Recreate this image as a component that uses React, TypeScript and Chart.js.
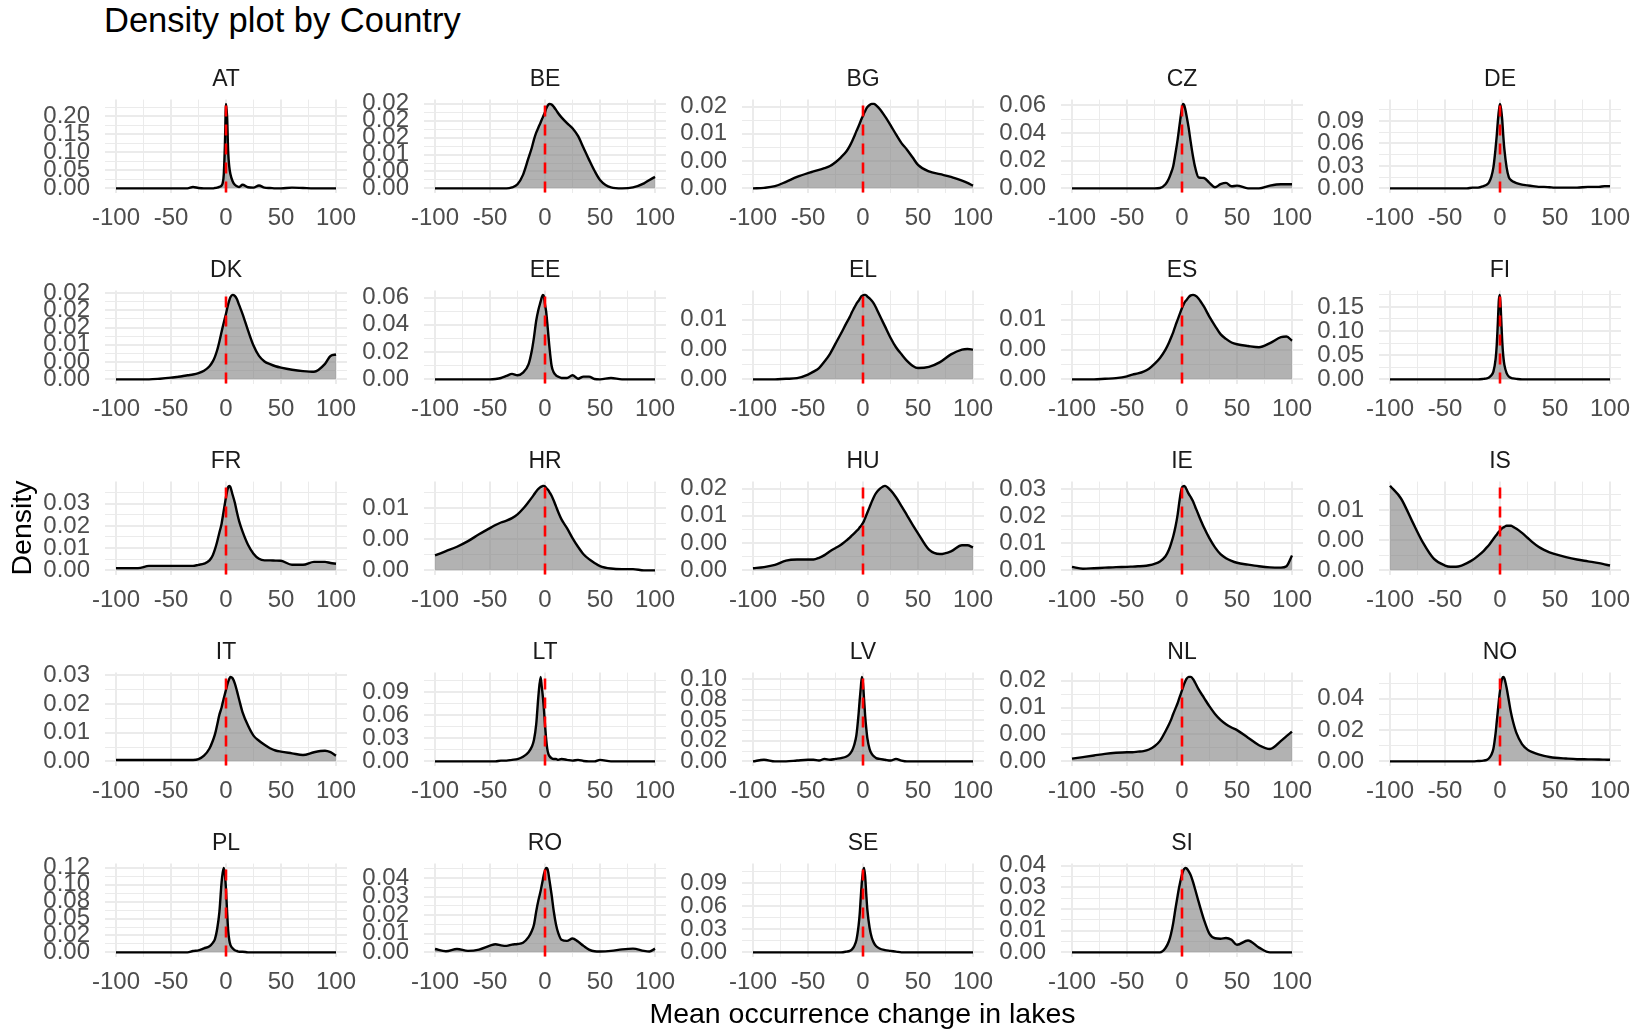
import React, { useEffect, useRef } from 'react';
import { Chart, registerables } from 'chart.js';

Chart.register(...registerables);

const FONT = '"Liberation Sans", Arial, Helvetica, sans-serif';
Chart.defaults.font.family = FONT;

// shared evaluation grid of "Mean occurrence change in lakes"
const X_GRID = [-100, -90, -80, -70, -60, -50, -45, -40, -35, -30, -25, -20, -15, -12, -10, -8, -6, -4, -3, -2, -1, 0, 1, 2, 3, 4, 6, 8, 10, 12, 15, 20, 25, 30, 35, 40, 45, 50, 60, 70, 80, 90, 95, 100];
const X_TICK_LABELS = [-100, -50, 0, 50, 100];
const REF_LINE_X = 0;

const COUNTRIES = ['AT', 'BE', 'BG', 'CZ', 'DE', 'DK', 'EE', 'EL', 'ES', 'FI', 'FR', 'HR', 'HU', 'IE', 'IS', 'IT', 'LT', 'LV', 'NL', 'NO', 'PL', 'RO', 'SE', 'SI'];

const AT = [0, 0, 0, 0, 0, 0, 0, 0, 0, 0.004, 0.001, 0, 0, 0, 0.001, 0.002, 0.004, 0.008, 0.015, 0.04, 0.12, 0.235, 0.2, 0.1, 0.06, 0.04, 0.02, 0.01, 0.006, 0.004, 0.01, 0.003, 0.002, 0.008, 0.002, 0.001, 0, 0, 0.002, 0.001, 0, 0, 0, 0];
const BE = [0, 0, 0, 0, 0, 0, 0, 0, 0, 0.0003, 0.0012, 0.004, 0.009, 0.012, 0.0145, 0.0165, 0.018, 0.0195, 0.0203, 0.021, 0.0218, 0.0225, 0.0235, 0.0242, 0.0247, 0.025, 0.0248, 0.0241, 0.0232, 0.0222, 0.021, 0.0193, 0.0178, 0.0155, 0.012, 0.0085, 0.0052, 0.0025, 0.0003, 0, 0.0003, 0.0015, 0.0025, 0.0034];
const BG = [0, 0.0001, 0.0004, 0.0012, 0.0021, 0.0028, 0.0031, 0.0034, 0.0037, 0.0041, 0.0048, 0.0057, 0.0068, 0.0078, 0.0086, 0.0095, 0.0105, 0.0114, 0.0119, 0.0124, 0.0129, 0.0133, 0.0138, 0.0142, 0.0146, 0.0149, 0.0153, 0.0155, 0.0155, 0.0152, 0.0146, 0.0132, 0.0116, 0.0099, 0.0083, 0.0071, 0.0057, 0.0043, 0.0031, 0.0026, 0.0021, 0.0014, 0.001, 0.0005];
const CZ = [0, 0, 0, 0, 0, 0, 0, 0, 0, 0, 0, 0.0003, 0.003, 0.007, 0.011, 0.016, 0.025, 0.035, 0.041, 0.047, 0.053, 0.058, 0.061, 0.06, 0.057, 0.053, 0.044, 0.033, 0.023, 0.015, 0.008, 0.0075, 0.004, 0.0008, 0.003, 0.004, 0.0015, 0.002, 0, 0, 0.002, 0.003, 0.003, 0.003];
const DE = [0, 0, 0, 0, 0, 0, 0, 0, 0, 0, 0.001, 0.001, 0.003, 0.005, 0.008, 0.015, 0.028, 0.054, 0.07, 0.089, 0.104, 0.113, 0.106, 0.092, 0.07, 0.052, 0.028, 0.015, 0.011, 0.009, 0.007, 0.005, 0.004, 0.003, 0.002, 0.002, 0.0015, 0.001, 0.001, 0.001, 0.002, 0.002, 0.003, 0.003];
const DK = [0, 0, 0, 0, 0.0002, 0.0005, 0.0007, 0.0009, 0.0012, 0.0014, 0.0018, 0.0025, 0.0038, 0.0052, 0.0066, 0.0085, 0.011, 0.0138, 0.0152, 0.0165, 0.0178, 0.019, 0.0205, 0.0218, 0.0229, 0.0238, 0.0245, 0.0242, 0.0232, 0.0215, 0.019, 0.0142, 0.0098, 0.0068, 0.0052, 0.0044, 0.0038, 0.0034, 0.0028, 0.0024, 0.0022, 0.0045, 0.0068, 0.0072];
const EE = [0, 0, 0, 0, 0, 0, 0.0003, 0.001, 0.0025, 0.004, 0.003, 0.005, 0.011, 0.021, 0.031, 0.043, 0.051, 0.057, 0.06, 0.062, 0.061, 0.055, 0.05, 0.042, 0.033, 0.024, 0.01, 0.005, 0.003, 0.002, 0.001, 0.001, 0.003, 0.0005, 0.002, 0.002, 0.0003, 0, 0.001, 0, 0, 0, 0, 0];
const EL = [0, 0, 0, 0.0001, 0.0002, 0.0008, 0.0013, 0.0019, 0.003, 0.0043, 0.006, 0.0077, 0.0095, 0.0105, 0.0113, 0.012, 0.0127, 0.0132, 0.0135, 0.0138, 0.014, 0.0141, 0.0142, 0.0142, 0.0141, 0.0139, 0.0136, 0.0132, 0.0127, 0.012, 0.0108, 0.0089, 0.007, 0.0054, 0.0042, 0.0031, 0.0023, 0.0019, 0.0021, 0.0029, 0.0042, 0.005, 0.0051, 0.005];
const ES = [0, 0, 0, 0.0001, 0.0002, 0.0005, 0.0008, 0.001, 0.0013, 0.0018, 0.0026, 0.0036, 0.005, 0.0061, 0.007, 0.0079, 0.009, 0.01, 0.0105, 0.011, 0.0115, 0.012, 0.0124, 0.0128, 0.0131, 0.0133, 0.0138, 0.0141, 0.0142, 0.0141, 0.0136, 0.0122, 0.0105, 0.009, 0.0076, 0.0068, 0.0062, 0.0059, 0.0056, 0.0054, 0.0061, 0.0071, 0.0072, 0.0065];
const FI = [0, 0, 0, 0, 0, 0, 0, 0, 0, 0, 0, 0, 0.001, 0.002, 0.004, 0.008, 0.016, 0.042, 0.07, 0.115, 0.165, 0.175, 0.13, 0.08, 0.048, 0.03, 0.013, 0.006, 0.003, 0.002, 0.001, 0, 0, 0, 0, 0, 0, 0, 0, 0, 0, 0, 0, 0];
const FR = [0.001, 0.001, 0.001, 0.002, 0.002, 0.002, 0.002, 0.002, 0.002, 0.002, 0.0025, 0.003, 0.0045, 0.0068, 0.0095, 0.013, 0.017, 0.021, 0.024, 0.027, 0.03, 0.033, 0.0355, 0.0375, 0.038, 0.0375, 0.034, 0.0305, 0.026, 0.022, 0.0175, 0.0115, 0.0075, 0.0052, 0.0045, 0.0045, 0.0044, 0.0043, 0.0025, 0.0025, 0.0038, 0.0038, 0.0033, 0.003];
const HR = [0.0024, 0.0031, 0.0038, 0.0047, 0.0058, 0.0068, 0.0073, 0.0077, 0.008, 0.0084, 0.009, 0.0099, 0.011, 0.0117, 0.0122, 0.0127, 0.0131, 0.0134, 0.0135, 0.0136, 0.0136, 0.0135, 0.0133, 0.0131, 0.0129, 0.0126, 0.012, 0.0112, 0.0103, 0.0094, 0.0082, 0.0068, 0.0052, 0.0038, 0.0026, 0.0018, 0.0012, 0.0007, 0.0003, 0.0002, 0.0002, 0, 0, 0];
const HU = [0.0004, 0.0006, 0.001, 0.0018, 0.002, 0.002, 0.002, 0.0023, 0.0028, 0.0035, 0.0041, 0.0047, 0.0055, 0.006, 0.0064, 0.0068, 0.0072, 0.0076, 0.0079, 0.0081, 0.0084, 0.0087, 0.0091, 0.0096, 0.0101, 0.0106, 0.0116, 0.0126, 0.0135, 0.0142, 0.0149, 0.0155, 0.0147, 0.0134, 0.0118, 0.0101, 0.0084, 0.0068, 0.0038, 0.003, 0.0035, 0.0046, 0.0046, 0.0042];
const IE = [0.0013, 0.0006, 0.0008, 0.001, 0.0012, 0.0013, 0.0014, 0.0015, 0.0016, 0.0019, 0.0024, 0.0033, 0.0052, 0.0075, 0.0098, 0.0125, 0.016, 0.0205, 0.0235, 0.0265, 0.029, 0.0305, 0.031, 0.0312, 0.0308, 0.03, 0.0283, 0.027, 0.0255, 0.0235, 0.0205, 0.0158, 0.0118, 0.0085, 0.006, 0.0045, 0.0035, 0.0028, 0.0021, 0.0015, 0.0011, 0.001, 0.0015, 0.0055];
const IS = [0.014, 0.0119, 0.0082, 0.0046, 0.0019, 0.0008, 0.0006, 0.0006, 0.0008, 0.0012, 0.0017, 0.0024, 0.0032, 0.0038, 0.0042, 0.0047, 0.0052, 0.0057, 0.0059, 0.0062, 0.0064, 0.0066, 0.0068, 0.007, 0.0071, 0.0072, 0.0074, 0.0074, 0.0074, 0.0072, 0.0069, 0.0062, 0.0054, 0.0046, 0.0039, 0.0034, 0.003, 0.0027, 0.0022, 0.0018, 0.0015, 0.0012, 0.001, 0.0008];
const IT = [0.0005, 0.0005, 0.0005, 0.0005, 0.0005, 0.0005, 0.0005, 0.0005, 0.0005, 0.0005, 0.0008, 0.002, 0.0045, 0.0072, 0.0095, 0.0128, 0.0163, 0.0188, 0.0205, 0.022, 0.0235, 0.025, 0.0265, 0.0278, 0.0288, 0.0295, 0.029, 0.0272, 0.0245, 0.0215, 0.0172, 0.0125, 0.009, 0.0072, 0.0058, 0.0046, 0.0038, 0.0034, 0.0028, 0.0022, 0.0032, 0.0037, 0.0032, 0.002];
const LT = [0, 0, 0, 0, 0, 0, 0, 0.001, 0.001, 0.002, 0.003, 0.006, 0.012, 0.019, 0.028, 0.048, 0.085, 0.11, 0.098, 0.085, 0.068, 0.048, 0.03, 0.017, 0.01, 0.007, 0.004, 0.003, 0.003, 0.002, 0.003, 0.002, 0.001, 0.002, 0.0005, 0, 0, 0.002, 0, 0, 0, 0, 0, 0];
const LV = [0, 0.002, 0, 0, 0.001, 0.002, 0.002, 0.001, 0.003, 0.002, 0.003, 0.004, 0.006, 0.009, 0.013, 0.02, 0.032, 0.058, 0.075, 0.09, 0.103, 0.095, 0.075, 0.055, 0.04, 0.028, 0.015, 0.009, 0.006, 0.004, 0.003, 0.002, 0.001, 0.003, 0.001, 0, 0, 0, 0, 0, 0, 0, 0, 0];
const NL = [0.0005, 0.0008, 0.0011, 0.0014, 0.0016, 0.0017, 0.0017, 0.0018, 0.0019, 0.0022, 0.0028, 0.0038, 0.0056, 0.0068, 0.0077, 0.0088, 0.0098, 0.0108, 0.0114, 0.012, 0.0126, 0.0132, 0.0138, 0.0144, 0.0149, 0.0153, 0.0157, 0.0157, 0.0153, 0.0146, 0.0134, 0.0118, 0.0102, 0.0088, 0.0077, 0.0069, 0.0063, 0.0058, 0.0044, 0.003, 0.0023, 0.0038, 0.0047, 0.0055];
const NO = [0, 0, 0, 0, 0, 0, 0, 0, 0, 0, 0, 0.0002, 0.0005, 0.001, 0.002, 0.004, 0.008, 0.018, 0.025, 0.032, 0.039, 0.045, 0.05, 0.053, 0.054, 0.053, 0.047, 0.039, 0.031, 0.025, 0.018, 0.011, 0.0075, 0.0058, 0.0045, 0.0035, 0.0028, 0.0023, 0.0018, 0.0014, 0.0013, 0.0012, 0.0011, 0.001];
const PL = [0, 0, 0, 0, 0, 0, 0, 0, 0, 0.002, 0.003, 0.006, 0.009, 0.014, 0.02, 0.035, 0.06, 0.104, 0.118, 0.125, 0.115, 0.093, 0.06, 0.032, 0.018, 0.011, 0.006, 0.003, 0.002, 0.001, 0.001, 0, 0, 0, 0, 0, 0, 0, 0, 0, 0, 0, 0, 0];
const RO = [0.0018, 0.0006, 0.0018, 0.0008, 0.0015, 0.0036, 0.0044, 0.0038, 0.0035, 0.0042, 0.0045, 0.0052, 0.0082, 0.0115, 0.015, 0.022, 0.028, 0.033, 0.036, 0.039, 0.042, 0.044, 0.0455, 0.0452, 0.043, 0.039, 0.031, 0.022, 0.015, 0.0105, 0.0068, 0.0062, 0.0075, 0.0058, 0.0035, 0.0015, 0.0006, 0.0005, 0.0008, 0.0016, 0.002, 0.0008, 0.0005, 0.002];
const SE = [0, 0, 0, 0, 0, 0, 0, 0, 0, 0, 0, 0, 0.001, 0.002, 0.004, 0.008, 0.016, 0.035, 0.05, 0.072, 0.092, 0.105, 0.11, 0.098, 0.075, 0.055, 0.032, 0.019, 0.012, 0.008, 0.005, 0.003, 0.002, 0.001, 0, 0, 0, 0, 0, 0, 0, 0, 0, 0];
const SI = [0, 0, 0, 0, 0, 0, 0, 0, 0, 0, 0, 0, 0.002, 0.005, 0.0085, 0.0135, 0.02, 0.026, 0.029, 0.0315, 0.034, 0.036, 0.0375, 0.0385, 0.039, 0.0388, 0.0375, 0.0355, 0.0325, 0.029, 0.0235, 0.015, 0.0085, 0.0065, 0.0063, 0.0066, 0.0058, 0.0035, 0.0055, 0.0022, 0, 0, 0, 0];

const DENSITIES = [AT, BE, BG, CZ, DE, DK, EE, EL, ES, FI, FR, HR, HU, IE, IS, IT, LT, LV, NL, NO, PL, RO, SE, SI];

// y-axis break spacing and printed tick labels (as they appear, bottom to top)
const Y_STEPS = [0.05, 0.005, 0.005, 0.02, 0.03, 0.005, 0.02, 0.005, 0.005, 0.05, 0.01, 0.005, 0.005, 0.01, 0.005, 0.01, 0.03, 0.025, 0.005, 0.02, 0.025, 0.01, 0.03, 0.01];
const Y_LABELS = [
  ['0.00', '0.05', '0.10', '0.15', '0.20'],
  ['0.00', '0.00', '0.01', '0.02', '0.02', '0.02'],
  ['0.00', '0.00', '0.01', '0.02'],
  ['0.00', '0.02', '0.04', '0.06'],
  ['0.00', '0.03', '0.06', '0.09'],
  ['0.00', '0.00', '0.01', '0.02', '0.02', '0.02'],
  ['0.00', '0.02', '0.04', '0.06'],
  ['0.00', '0.00', '0.01'],
  ['0.00', '0.00', '0.01'],
  ['0.00', '0.05', '0.10', '0.15'],
  ['0.00', '0.01', '0.02', '0.03'],
  ['0.00', '0.00', '0.01'],
  ['0.00', '0.00', '0.01', '0.02'],
  ['0.00', '0.01', '0.02', '0.03'],
  ['0.00', '0.00', '0.01'],
  ['0.00', '0.01', '0.02', '0.03'],
  ['0.00', '0.03', '0.06', '0.09'],
  ['0.00', '0.02', '0.05', '0.08', '0.10'],
  ['0.00', '0.00', '0.01', '0.02'],
  ['0.00', '0.02', '0.04'],
  ['0.00', '0.02', '0.05', '0.08', '0.10', '0.12'],
  ['0.00', '0.01', '0.02', '0.03', '0.04'],
  ['0.00', '0.03', '0.06', '0.09'],
  ['0.00', '0.01', '0.02', '0.03', '0.04'],
];

// layout (pixels)
const N_COLS = 5;
const PLOT_LEFT0 = 105;
const COL_PITCH = 318.5;
const PLOT_TOP0 = 100;
const ROW_PITCH = 190.8;
const PLOT_W = 242;
const PLOT_H = 93;
const Y_AXIS_W = 100;
const RIGHT_PAD = 40;
const TITLE_H = 39.6;
const CANVAS_H = 180;
const TICK_FONT = 24;

function halfStepTicks(min: number, max: number, step: number) {
  const half = step / 2;
  const out: { value: number }[] = [];
  for (let k = Math.ceil(min / half - 1e-9); k * half <= max + 1e-12; k++) {
    out.push({ value: k * half });
  }
  return out;
}
function isMajor(v: number, step: number) {
  const k = Math.round(v / (step / 2));
  return k % 2 === 0;
}

const zeroLinePlugin = {
  id: 'zeroLine',
  afterDatasetsDraw(chart: any) {
    const { ctx, chartArea, scales } = chart;
    const x = scales.x.getPixelForValue(REF_LINE_X);
    ctx.save();
    ctx.strokeStyle = '#FF0000';
    ctx.lineWidth = 2.6;
    ctx.setLineDash([11, 8]);
    ctx.beginPath();
    ctx.moveTo(x, chartArea.bottom);
    ctx.lineTo(x, chartArea.top);
    ctx.stroke();
    ctx.restore();
  },
};

function Panel({ idx }: { idx: number }) {
  const ref = useRef<HTMLCanvasElement>(null);
  const name = COUNTRIES[idx];
  const ys = DENSITIES[idx];
  const step = Y_STEPS[idx];
  const labels = Y_LABELS[idx];
  const r = Math.floor(idx / N_COLS);
  const c = idx % N_COLS;
  const left = PLOT_LEFT0 + COL_PITCH * c - Y_AXIS_W;
  const top = PLOT_TOP0 + ROW_PITCH * r - TITLE_H;

  useEffect(() => {
    if (!ref.current) return;
    const peak = Math.max(...ys);
    const yMin = -0.05 * peak;
    const yMax = 1.05 * peak;
    const xStep = 50;
    const chart = new Chart(ref.current, {
      type: 'line',
      data: {
        datasets: [
          {
            data: X_GRID.map((x, i) => ({ x, y: ys[i] })),
            borderColor: '#000000',
            borderWidth: 2.4,
            backgroundColor: 'rgba(127,127,127,0.6)',
            fill: 'origin',
            pointRadius: 0,
            cubicInterpolationMode: 'monotone',
          },
        ],
      },
      options: {
        responsive: false,
        animation: false,
        events: [],
        layout: { padding: { left: 0, right: RIGHT_PAD, top: 0, bottom: 0 } },
        plugins: {
          legend: { display: false },
          tooltip: { enabled: false },
          title: {
            display: true,
            text: name,
            fullSize: false,
            color: '#1A1A1A',
            font: { size: 23, weight: 'normal', family: FONT },
            padding: { top: 6, bottom: 6 },
          },
        },
        scales: {
          x: {
            type: 'linear',
            min: -110,
            max: 110,
            afterBuildTicks: (axis: any) => {
              axis.ticks = halfStepTicks(-110, 110, xStep);
            },
            afterFit: (axis: any) => {
              axis.height = CANVAS_H - TITLE_H - PLOT_H;
            },
            border: { display: false },
            grid: {
              color: '#EBEBEB',
              drawTicks: false,
              lineWidth: (ctx: any) => (ctx.tick && isMajor(ctx.tick.value, xStep) ? 2 : 1),
            },
            ticks: {
              autoSkip: false,
              maxRotation: 0,
              minRotation: 0,
              padding: 11,
              color: '#4D4D4D',
              font: { size: TICK_FONT, family: FONT },
              callback: (v: any) => (X_TICK_LABELS.includes(Number(v)) ? String(v) : ''),
            },
          },
          y: {
            type: 'linear',
            min: yMin,
            max: yMax,
            afterBuildTicks: (axis: any) => {
              axis.ticks = halfStepTicks(yMin, yMax, step);
            },
            afterFit: (axis: any) => {
              axis.width = Y_AXIS_W;
            },
            border: { display: false },
            grid: {
              color: '#EBEBEB',
              drawTicks: false,
              lineWidth: (ctx: any) => (ctx.tick && isMajor(ctx.tick.value, step) ? 2 : 1),
            },
            ticks: {
              autoSkip: false,
              padding: 15,
              color: '#4D4D4D',
              font: { size: TICK_FONT, family: FONT },
              callback: (v: any) => {
                const k = Math.round(Number(v) / (step / 2));
                if (k % 2 !== 0) return '';
                return labels[k / 2] ?? '';
              },
            },
          },
        },
      },
      plugins: [zeroLinePlugin],
    } as any);
    return () => chart.destroy();
  }, []);

  return (
    <canvas
      ref={ref}
      width={Y_AXIS_W + PLOT_W + RIGHT_PAD}
      height={CANVAS_H}
      style={{ position: 'absolute', left, top, width: Y_AXIS_W + PLOT_W + RIGHT_PAD, height: CANVAS_H }}
    />
  );
}

export default function App() {
  return (
    <div
      style={{
        position: 'absolute',
        left: 0,
        top: 0,
        width: 1638,
        height: 1031,
        background: '#ffffff',
        overflow: 'hidden',
        fontFamily: FONT,
      }}
    >
      <div style={{ position: 'absolute', left: 104, top: 0, fontSize: 34.5, lineHeight: '40px', color: '#000', whiteSpace: 'nowrap' }}>
        Density plot by Country
      </div>
      {COUNTRIES.map((_, i) => (
        <Panel key={COUNTRIES[i]} idx={i} />
      ))}
      <div
        style={{
          position: 'absolute',
          left: 362.5,
          width: 1000,
          top: 996,
          textAlign: 'center',
          fontSize: 28.5,
          lineHeight: '34px',
          color: '#000',
          whiteSpace: 'nowrap',
        }}
      >
        Mean occurrence change in lakes
      </div>
      <div
        style={{
          position: 'absolute',
          left: 21 - 100,
          width: 200,
          top: 527.5 - 17,
          height: 34,
          textAlign: 'center',
          fontSize: 28.5,
          lineHeight: '34px',
          color: '#000',
          transform: 'rotate(-90deg)',
          whiteSpace: 'nowrap',
        }}
      >
        Density
      </div>
    </div>
  );
}
